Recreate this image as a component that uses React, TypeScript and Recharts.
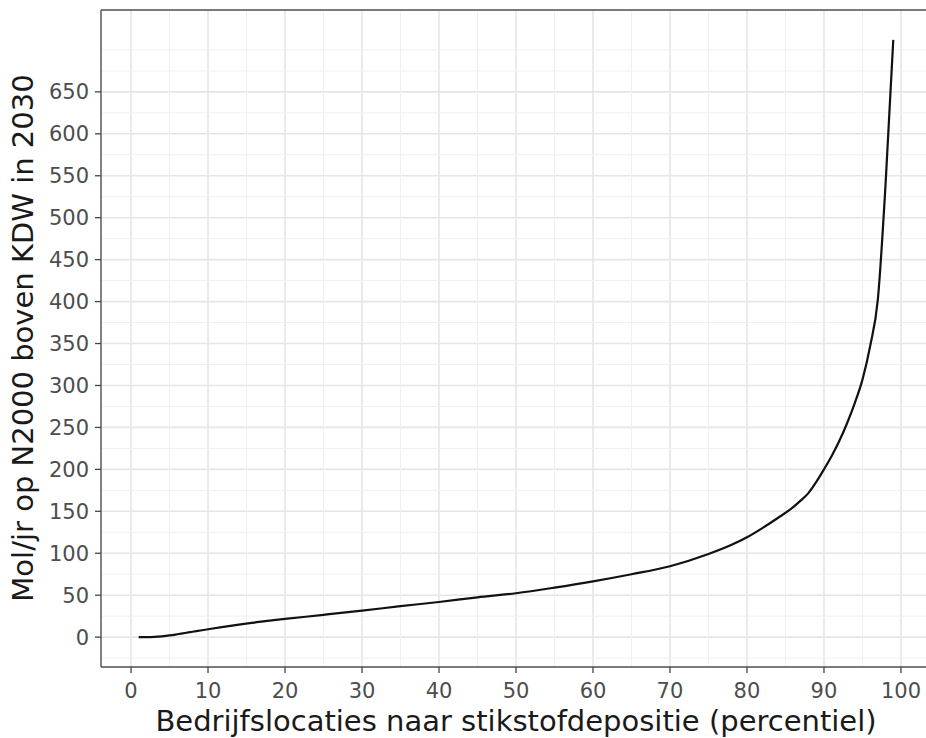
import {
  CartesianGrid,
  Line,
  LineChart,
  ReferenceLine,
  XAxis,
  YAxis,
} from "recharts";

const PERCENTIEL = [
  1, 2, 3, 4, 5, 6, 7, 8, 9, 10, 12, 14, 16, 18, 20, 25, 30, 35, 40, 45, 50, 55, 60, 65, 70,
  75, 78, 80, 82, 84, 86, 87, 88, 89, 90, 91, 92, 93, 94, 95, 96, 97, 98, 99,
];
const MOL = [
  0, 0.1, 0.4, 1, 2, 3.4, 4.9, 6.4, 7.9, 9.4, 12.3, 15, 17.4, 19.7, 21.7, 26.6, 31.6, 36.9,
  41.9, 47.4, 52.3, 59, 66.5, 75, 84.5, 99, 110, 119, 130, 142, 155, 163, 172, 185, 200, 216,
  234, 255, 279, 307, 347, 403, 540, 712,
];

const X_TICKS = [0, 10, 20, 30, 40, 50, 60, 70, 80, 90, 100];
const Y_TICKS = [0, 50, 100, 150, 200, 250, 300, 350, 400, 450, 500, 550, 600, 650];
const X_MINOR = [5, 15, 25, 35, 45, 55, 65, 75, 85, 95];
const Y_MINOR = [
  -25, 25, 75, 125, 175, 225, 275, 325, 375, 425, 475, 525, 575, 625, 675, 700,
];

const X_DOMAIN = [-3.9, 103.9];
const Y_DOMAIN = [-35.6, 747.6];

const data = PERCENTIEL.map((p, i) => ({ p, mol: MOL[i] }));

const FONT = "'DejaVu Sans', sans-serif";
const tickStyle = { fill: "#4d4d4d", fontSize: 21, fontFamily: FONT };
const border = { stroke: "#555", strokeWidth: 1.4 };

export default function App() {
  return (
    <div
      style={{
        position: "absolute",
        left: 0,
        top: 0,
        width: 926,
        height: 738,
        overflow: "hidden",
        background: "#fff",
      }}
    >
      <LineChart
        width={932}
        height={738}
        data={data}
        margin={{ top: 10, right: 1, left: 0, bottom: 0 }}
      >
        <CartesianGrid stroke="#e6e6e6" strokeWidth={1.6} />
        {X_MINOR.map((v) => (
          <ReferenceLine key={"xm" + v} x={v} stroke="#f0f0f0" strokeWidth={1} />
        ))}
        {Y_MINOR.map((v) => (
          <ReferenceLine key={"ym" + v} y={v} stroke="#f0f0f0" strokeWidth={1} />
        ))}
        <ReferenceLine y={Y_DOMAIN[1]} {...border} />
        <XAxis
          dataKey="p"
          type="number"
          domain={X_DOMAIN}
          allowDataOverflow
          ticks={X_TICKS}
          interval={0}
          height={71}
          axisLine={border}
          tickSize={6}
          tickMargin={10}
          tickLine={{ stroke: "#444", strokeWidth: 1.3 }}
          tick={tickStyle}
          label={{
            value: "Bedrijfslocaties naar stikstofdepositie (percentiel)",
            position: "insideBottom",
            offset: 7,
            fill: "#1a1a1a",
            fontSize: 29,
            fontFamily: FONT,
          }}
        />
        <YAxis
          type="number"
          domain={Y_DOMAIN}
          allowDataOverflow
          ticks={Y_TICKS}
          interval={0}
          width={101}
          axisLine={border}
          tickSize={6}
          tickMargin={6}
          tickLine={{ stroke: "#444", strokeWidth: 1.3 }}
          tick={tickStyle}
          label={{
            content: () => (
              <text
                x={23}
                y={338}
                transform="rotate(-90 23 338)"
                textAnchor="middle"
                dominantBaseline="central"
                fill="#1a1a1a"
                fontSize={29}
                fontFamily={FONT}
              >
                Mol/jr op N2000 boven KDW in 2030
              </text>
            ),
          }}
        />
        <Line
          type="monotone"
          dataKey="mol"
          stroke="#111"
          strokeWidth={2.2}
          dot={false}
          activeDot={false}
          isAnimationActive={false}
        />
      </LineChart>
    </div>
  );
}
